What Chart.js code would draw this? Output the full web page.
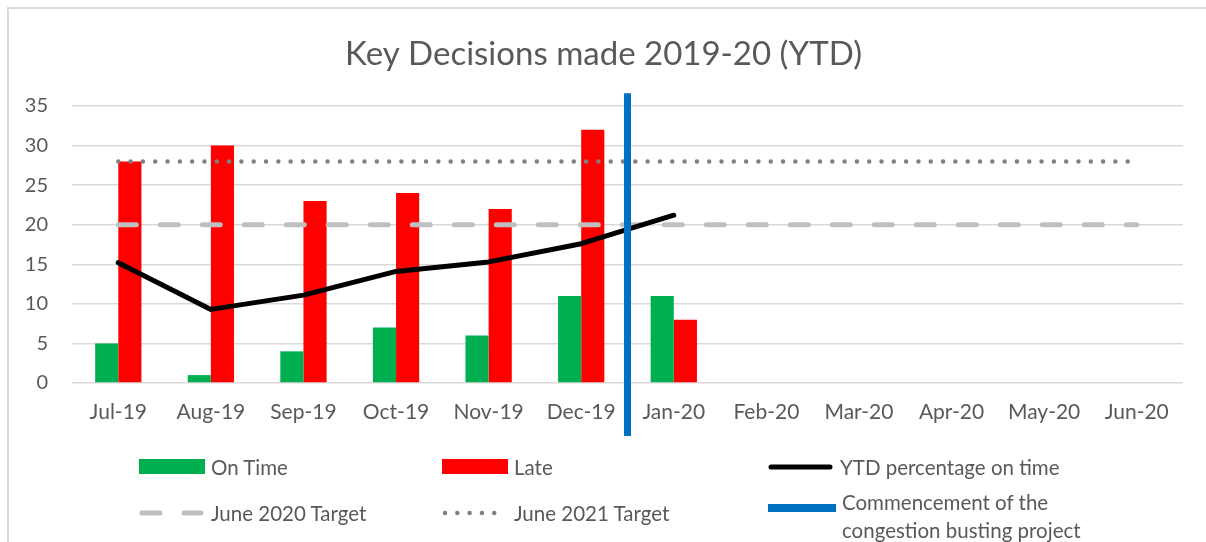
<!DOCTYPE html>
<html>
<head>
<meta charset="utf-8">
<script src="https://cdn.jsdelivr.net/npm/chart.js@4"></script>
<style>
  body { margin: 0; background: #fff; width: 1206px; height: 542px; overflow: hidden; position: relative; font-family: Lato, "Open Sans", sans-serif; }
  #frame { position: absolute; left: 7px; top: 7px; width: 1300px; height: 600px; border-left: 2px solid #d9d9d9; border-top: 2px solid #d9d9d9; }
  #wrap { position: absolute; left: 0; top: 0; width: 1206px; height: 542px; }
  .item { position: absolute; display: flex; align-items: flex-start; color: #595959; font-size: 20.5px; line-height: 28px; }
  .item svg { flex: none; margin-right: 6px; }
</style>
</head>
<body>
<div id="frame"></div>
<div id="wrap"><canvas id="chart"></canvas></div>
<div id="legend"></div>
<script>
// months on the x axis
const months = ['Jul-19', 'Aug-19', 'Sep-19', 'Oct-19', 'Nov-19', 'Dec-19', 'Jan-20', 'Feb-20', 'Mar-20', 'Apr-20', 'May-20', 'Jun-20'];
const onTime = [5, 1, 4, 7, 6, 11, 11, null, null, null, null, null];
const late = [28, 30, 23, 24, 22, 32, 8, null, null, null, null, null];
const ytdOnTime = [15.2, 9.3, 11.1, 14.1, 15.3, 17.6, 21.2, null, null, null, null, null];
const target2020 = [20, 20, 20, 20, 20, 20, 20, 20, 20, 20, 20, 20];
const target2021 = [28, 28, 28, 28, 28, 28, 28, 28, 28, 28, 28, 28];
// project start sits between Dec-19 and Jan-20
const commencementLabel = 'Commencement of the congestion busting project';
const commencementAt = 5.5;
const commencementSpan = [36.6, -6.7];
const yTicks = { min: 0, max: 35, step: 5 };

const green = '#00B050', red = '#FF0000', blue = '#0070C0';

// vertical marker for the project start, placed through the chart's own scales
const commencementLine = {
  id: 'commencementLine',
  afterDatasetsDraw(chart) {
    const { ctx, scales: { x, y } } = chart;
    const px = x.getPixelForValue(commencementAt);
    ctx.save();
    ctx.strokeStyle = blue;
    ctx.lineWidth = 7;
    ctx.beginPath();
    ctx.moveTo(px, y.getPixelForValue(commencementSpan[0]));
    ctx.lineTo(px, y.getPixelForValue(commencementSpan[1]));
    ctx.stroke();
    ctx.restore();
  }
};

const ctx = document.getElementById('chart').getContext('2d');
const chart = new Chart(ctx, {
  type: 'bar',
  data: {
    labels: months,
    datasets: [
      { label: 'On Time', data: onTime, backgroundColor: green, order: 5 },
      { label: 'Late', data: late, backgroundColor: red, order: 5 },
      { type: 'line', label: 'YTD percentage on time', data: ytdOnTime, borderColor: '#000', borderWidth: 5,
        borderCapStyle: 'round', borderJoinStyle: 'round', tension: 0, pointRadius: 0, order: 1 },
      { type: 'line', label: 'June 2020 Target', data: target2020, borderColor: '#BFBFBF', borderWidth: 5,
        borderDash: [18, 24], borderCapStyle: 'round', pointRadius: 0, order: 3 },
      { type: 'line', label: 'June 2021 Target', data: target2021, borderColor: '#808080', borderWidth: 4.5,
        borderDash: [0.01, 12.3], borderCapStyle: 'round', pointRadius: 0, order: 3 }
    ]
  },
  options: {
    responsive: true,
    maintainAspectRatio: false,
    animation: false,
    layout: { padding: { left: 24, right: 23, top: 0, bottom: 109 } },
    datasets: { bar: { categoryPercentage: 0.5, barPercentage: 1 } },
    plugins: {
      legend: { display: false },
      tooltip: { enabled: false },
      title: {
        display: true,
        text: 'Key Decisions made 2019-20 (YTD)',
        color: '#595959',
        font: { family: 'Lato', size: 33, weight: 'normal' },
        padding: { top: 35, bottom: 31.4 }
      }
    },
    scales: {
      x: {
        grid: { display: false, drawTicks: false },
        border: { display: false },
        ticks: { color: '#595959', font: { family: 'Lato', size: 21 }, padding: 17, maxRotation: 0, autoSkip: false },
        afterFit: s => { s.height = 50; }
      },
      y: {
        min: yTicks.min, max: yTicks.max,
        grid: { color: '#D9D9D9', lineWidth: 1.5, drawTicks: false },
        border: { display: false },
        ticks: { stepSize: yTicks.step, color: '#595959', font: { family: 'Lato', size: 20 }, padding: 24 },
        afterFit: s => { s.width = 48; }
      }
    }
  },
  plugins: [commencementLine]
});

// legend laid out like the original: three columns, two rows
const legendItems = chart.data.datasets.map(ds => ds.type === 'line'
  ? { kind: 'line', label: ds.label, color: ds.borderColor, width: ds.borderWidth, dash: ds.borderDash }
  : { kind: 'box', label: ds.label, color: ds.backgroundColor });
legendItems.push({ kind: 'bar', label: commencementLabel, color: blue });

const cols = [139, 442, 768];
const rows = [467, 513];
const legendEl = document.getElementById('legend');
legendItems.forEach((it, i) => {
  const col = cols[i % 3], row = rows[Math.floor(i / 3)];
  const item = document.createElement('div');
  item.className = 'item';
  let svg, mt;
  if (it.kind === 'box') {
    svg = `<svg width="66" height="15"><rect width="66" height="15" fill="${it.color}"/></svg>`;
    mt = 6;
  } else if (it.kind === 'bar') {
    svg = `<svg width="68" height="8"><rect width="68" height="8" fill="${it.color}"/></svg>`;
    mt = 16;
  } else {
    const dash = it.dash ? `stroke-dasharray="${it.dash.join(' ')}"` : '';
    const w = it.dash && it.dash[0] < 1 ? 64 : 62;
    svg = `<svg width="66" height="8"><line x1="3" y1="4" x2="${w}" y2="4" stroke="${it.color}" stroke-width="${it.width}" stroke-linecap="round" ${dash}/></svg>`;
    mt = 10;
  }
  item.innerHTML = svg + `<span>${it.label}</span>`;
  item.querySelector('svg').style.marginTop = mt + 'px';
  item.style.left = col + 'px';
  item.style.top = (it.kind === 'bar' ? 488 : row - 14) + 'px';
  if (it.kind === 'bar') item.querySelector('span').style.width = '290px';
  legendEl.appendChild(item);
});
</script>
</body>
</html>
